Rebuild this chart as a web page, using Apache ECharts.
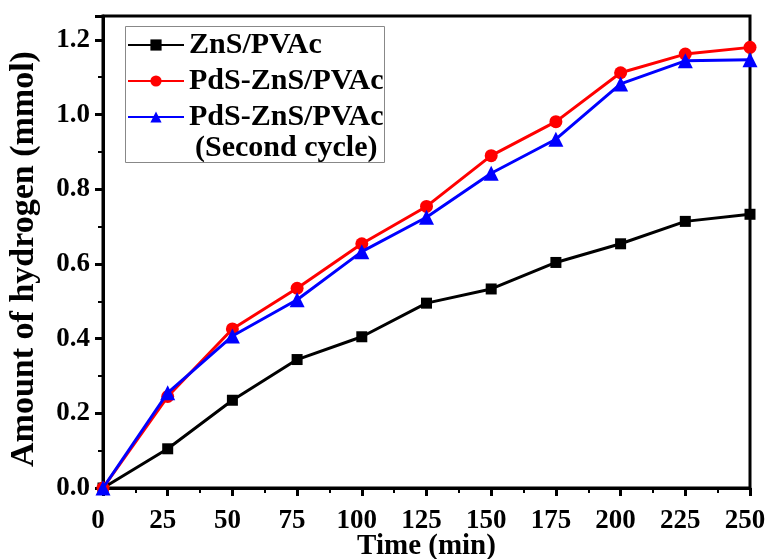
<!DOCTYPE html>
<html>
<head>
<meta charset="utf-8">
<script src="https://cdn.jsdelivr.net/npm/echarts@6/dist/echarts.min.js"></script>
<style>html,body{margin:0;padding:0;background:#fff}#c{width:769px;height:559px}</style>
</head>
<body>
<div id="c"></div>
<script>
var times = [0, 25, 50, 75, 100, 125, 150, 175, 200, 225, 250];
var znsPvac = [0, 0.105, 0.235, 0.344, 0.405, 0.495, 0.533, 0.604, 0.654, 0.714, 0.733];
var pdsZnsPvac = [0, 0.245, 0.426, 0.535, 0.654, 0.754, 0.890, 0.981, 1.112, 1.162, 1.180];
var pdsZnsPvac2 = [0, 0.255, 0.407, 0.504, 0.633, 0.725, 0.843, 0.934, 1.082, 1.144, 1.147];
var seriesNames = ['ZnS/PVAc', 'PdS-ZnS/PVAc', 'PdS-ZnS/PVAc (Second cycle)'];
var legendSub = '(Second cycle)';
var xTitle = 'Time (min)';
var yTitle = 'Amount of hydrogen (mmol)';

function pairs(xs, ys) { return xs.map(function (x, i) { return [x, ys[i]]; }); }

var FONT = 'Liberation Serif';
var chart = echarts.init(document.getElementById('c'), null, { renderer: 'canvas' });
chart.setOption({
  animation: false,
  backgroundColor: '#fff',
  grid: { left: 103, right: 19, top: 16, bottom: 71, containLabel: false, outerBoundsMode: 'none',
    show: true, borderColor: '#000', borderWidth: 3, backgroundColor: 'transparent' },
  legend: {
    left: 123, top: 24, orient: 'vertical',
    data: seriesNames,
    itemWidth: 56, itemHeight: 14, itemGap: 6,
    padding: [6, 4, 33, 4],
    borderWidth: 0,
    formatter: function (n) { return n === seriesNames[2] ? seriesNames[1] : n; },
    textStyle: { fontFamily: FONT, fontWeight: 'bold', fontSize: 30, color: '#000', lineHeight: 26 }
  },
  graphic: [
    { type: 'rect', left: 123, top: 24, z: 100, silent: true,
      shape: { width: 259, height: 136 }, style: { fill: 'none', stroke: '#888', lineWidth: 1 } },
    { type: 'text', left: 195, top: 133, z: 100,
      style: { text: legendSub, font: 'bold 30px "Liberation Serif"', fill: '#000' } }
  ],
  xAxis: {
    type: 'value', min: 0, max: 250, interval: 25,
    name: xTitle, nameLocation: 'middle', nameGap: 44, nameMoveOverlap: false,
    nameTextStyle: { fontFamily: FONT, fontWeight: 'bold', fontSize: 29, color: '#000' },
    axisLine: { lineStyle: { color: '#000', width: 3 } },
    axisTick: { inside: false, length: 8, lineStyle: { color: '#000', width: 3 } },
    minorTick: { show: true, splitNumber: 2, length: 5, lineStyle: { color: '#000', width: 2 } },
    splitLine: { show: false },
    axisLabel: { margin: 20, padding: [0, 10, 0, 0], fontFamily: FONT, fontWeight: 'bold', fontSize: 27, color: '#000' }
  },
  yAxis: {
    type: 'value', min: 0, max: 1.264, interval: 0.2,
    name: yTitle, nameLocation: 'middle', nameGap: 62,
    nameTextStyle: { fontFamily: FONT, fontWeight: 'bold', fontSize: 34, color: '#000', padding: [0, 14, 0, 0] },
    axisLine: { show: true, lineStyle: { color: '#000', width: 3 } },
    axisTick: { show: true, inside: false, length: 8, lineStyle: { color: '#000', width: 3 } },
    minorTick: { show: true, splitNumber: 2, length: 5, lineStyle: { color: '#000', width: 2 } },
    splitLine: { show: false },
    axisLabel: { showMaxLabel: false, margin: 13, fontFamily: FONT, fontWeight: 'bold', fontSize: 27, color: '#000',
      formatter: function (v) { return (Math.abs(v / 0.2 - Math.round(v / 0.2)) < 1e-6) ? v.toFixed(1) : ''; } }
  },
  series: [
    { name: seriesNames[0], type: 'line', data: pairs(times, znsPvac), symbol: 'rect', symbolSize: 11,
      itemStyle: { color: '#000' }, lineStyle: { color: '#000', width: 3 }, z: 2 },
    { name: seriesNames[1], type: 'line', data: pairs(times, pdsZnsPvac), symbol: 'circle', symbolSize: 13,
      itemStyle: { color: '#ff0000' }, lineStyle: { color: '#ff0000', width: 3 }, z: 3 },
    { name: seriesNames[2], type: 'line', data: pairs(times, pdsZnsPvac2), symbol: 'triangle', symbolSize: 15,
      itemStyle: { color: '#0000ff' }, lineStyle: { color: '#0000ff', width: 3 }, z: 4 }
  ]
});
</script>
</body>
</html>
